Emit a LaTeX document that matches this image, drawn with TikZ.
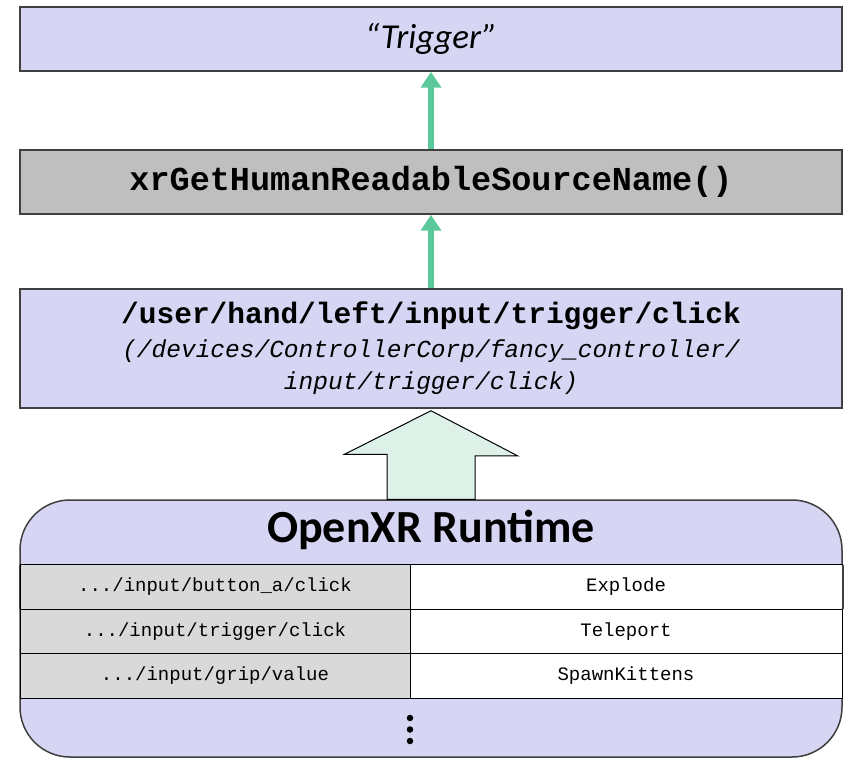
\documentclass[tikz,border=0pt]{standalone}
\usepackage{fontspec}
\setmainfont{Carlito}
\setmonofont{Liberation Mono}
\usetikzlibrary{arrows.meta,calc}

\definecolor{lav}{HTML}{D6D6F4}
\definecolor{boxgray}{HTML}{BFBFBF}
\definecolor{cellgray}{HTML}{D9D9D9}
\definecolor{edge}{HTML}{3F3F3F}
\definecolor{flow}{HTML}{5CC99B}
\definecolor{mint}{HTML}{DDF1E8}

\tikzset{
  stage/.style={draw=edge, line width=1.5pt, minimum width=822pt, inner sep=0pt, align=center},
  cell/.style={draw=black, line width=1pt, minimum height=44.5pt, inner sep=0pt,
               font=\ttfamily\fontsize{19}{22}\selectfont},
  flowarrow/.style={draw=flow, line width=6pt, -{Triangle[width=20pt,length=16pt]}},
  blockarrow/.style={draw=black, line width=1pt, fill=mint, line join=miter},
  dot/.style={circle, fill=black, inner sep=0pt, minimum size=6.5pt}
}

\begin{document}
\begin{tikzpicture}[x=1pt,y=-1pt]
\useasboundingbox (0,0) rectangle (846,759);

% top: label returned to the application
\node[stage, fill=lav, minimum height=64pt,
      font=\itshape\fontsize{35}{40}\selectfont] (name) at (431,39) {“Trigger”};

% API call
\node[stage, fill=boxgray, minimum height=64pt,
      font=\ttfamily\bfseries\fontsize{33.5}{38}\selectfont] (api) at (431,182)
  {xrGetHumanReadableSourceName()};

% bound input source path
\node[stage, fill=lav, minimum height=119pt,
      font=\ttfamily\itshape\fontsize{24.5}{32}\selectfont] (path) at (431,348.5)
  {{\upshape\bfseries\fontsize{29.5}{32}\selectfont /user/hand/left/input/trigger/click}\\[2pt]
   (/devices/ControllerCorp/fancy\_controller/\\
   input/trigger/click)};

% runtime container
\node[draw=edge, line width=1.5pt, fill=lav, rounded corners=50pt,
      minimum width=822pt, minimum height=257pt, inner sep=0pt] (rt) at (431,628.5) {};
\node[font=\bfseries\fontsize{46}{50}\selectfont] (rttitle) at (431,530) {OpenXR Runtime};

% binding table
\node[cell, fill=cellgray, minimum width=390pt] (p1) at (215,587) {.../input/button\_a/click};
\node[cell, fill=white, minimum width=432pt] (a1) at (626,587) {Explode};
\node[cell, fill=cellgray, minimum width=390pt] (p2) at (215,631.5) {.../input/trigger/click};
\node[cell, fill=white, minimum width=432pt] (a2) at (626,631.5) {Teleport};
\node[cell, fill=cellgray, minimum width=390pt] (p3) at (215,676) {.../input/grip/value};
\node[cell, fill=white, minimum width=432pt] (a3) at (626,676) {SpawnKittens};
\draw[draw=edge, line width=1.5pt] (rt.west) ++(0,-64) -- ++(0,44) (rt.east) ++(0,-64) -- ++(0,44);

% more rows
\node[dot] (d1) at (410,718) {};
\node[dot] (d2) at (410,729.5) {};
\node[dot] (d3) at (410,741) {};

% runtime feeds the path
\coordinate (tip) at ($(path.south)+(0,2)$);
\draw[blockarrow] (tip) -- ++(86.5,45) -- ++(-42.5,0) |- (rt.north) -- ++(-44,0)
  -- ++(0,-45) -- ++(-42.5,0) -- cycle;

% path -> API -> label
\draw[flowarrow] (path.north) -- (api.south);
\draw[flowarrow] (api.north) -- (name.south);
\end{tikzpicture}
\end{document}
